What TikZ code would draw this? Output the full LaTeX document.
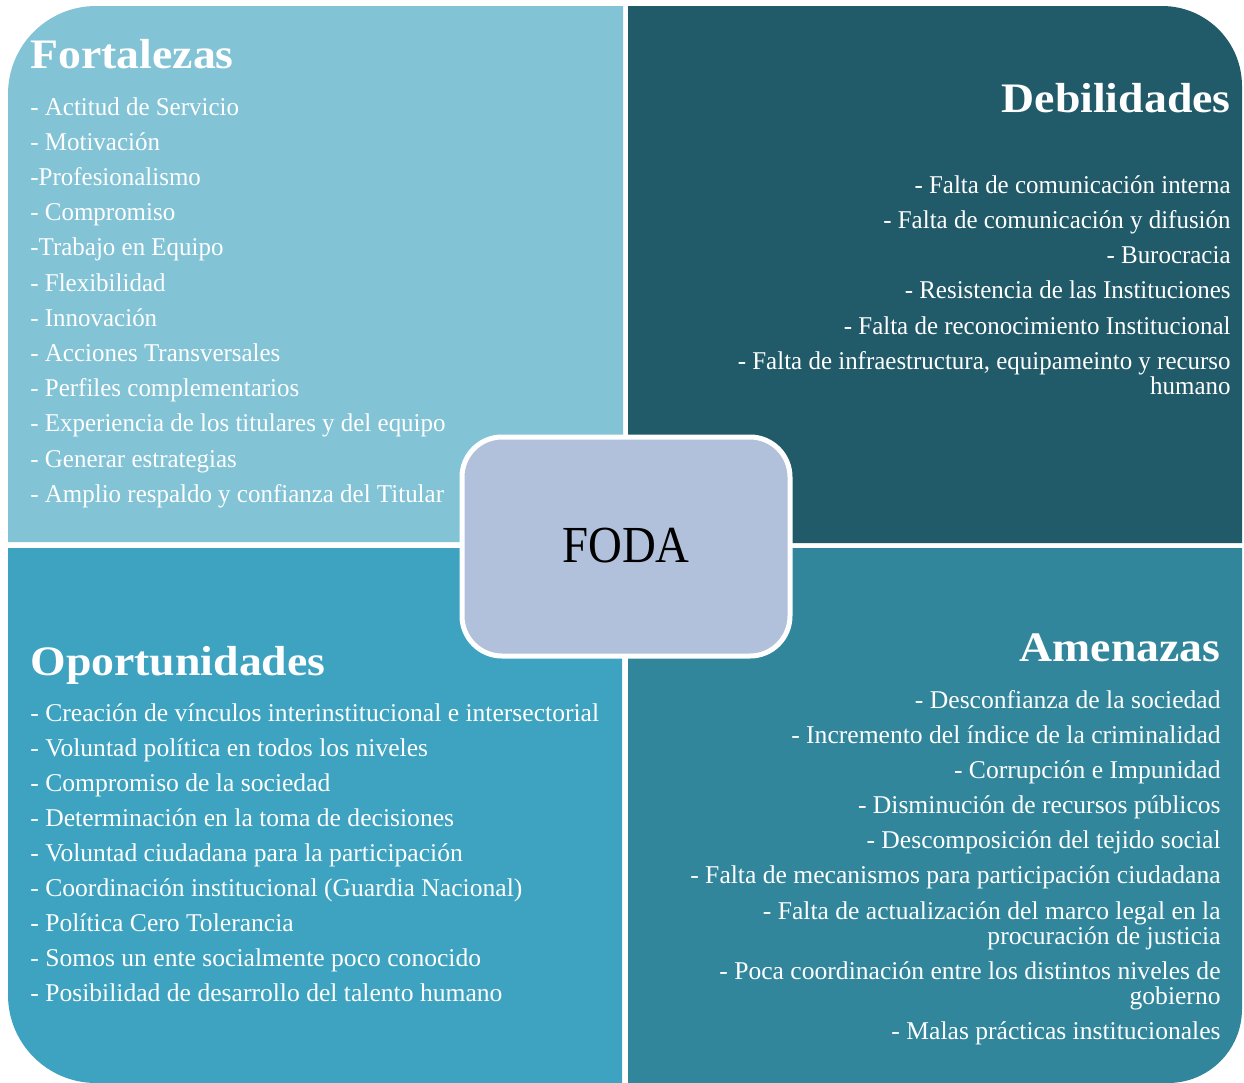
\documentclass[tikz,border=0pt]{standalone}
\usepackage{fontspec}
\setmainfont[FakeStretch=0.975]{Liberation Serif}
\newfontfamily\plainfont{Liberation Serif}
\newfontfamily\headfont[FakeStretch=1.09]{Liberation Serif}
\newfontfamily\fodafont[FakeStretch=0.9]{Liberation Serif}
\definecolor{fortcol}{HTML}{82C3D6}
\definecolor{debcol}{HTML}{215A69}
\definecolor{opocol}{HTML}{3DA3C0}
\definecolor{amecol}{HTML}{31869B}
\definecolor{fodacol}{HTML}{B1C1DC}
\tikzset{
	title/.style={text=white, inner sep=0pt, font=\fontsize{21}{25}\selectfont\headfont\bfseries},
	item/.style={text=white, inner sep=0pt, font=\fontsize{12.8}{12.5}\selectfont},
	plainitem/.style={item, font=\fontsize{12.8}{12.5}\selectfont\plainfont},
}
\begin{document}
\begin{tikzpicture}[x=0.5pt, y=-0.5pt]
					\useasboundingbox (0,0) rectangle (1244,1083);

					% The four quadrants, each with one rounded outer corner
						\fill [fortcol] (8,542) [rounded corners=44pt] -- (8,6) [sharp corners] -- (623,6) -- (623,542) -- cycle;
						\fill [debcol] (628,6) [rounded corners=40pt] -- (1242,6) [sharp corners] -- (1242,543) -- (628,543) -- cycle;
						\fill [opocol] (622,548) -- (8,548) [rounded corners=44pt] -- (8,1083) [sharp corners] -- (622,1083) -- cycle;
						\fill [amecol] (628,548) -- (1242,548) [rounded corners=37pt] -- (1242,1083) [sharp corners] -- (628,1083) -- cycle;

					% Fortalezas
						\node [title, anchor=base west] (fort) at (30,68) {Fortalezas};
						\foreach \t [count=\i] in {
							- Actitud de Servicio,
							- Motivación,
							-Profesionalismo,
							- Compromiso,
							-Trabajo en Equipo,
							- Flexibilidad,
							- Innovación,
							- Acciones Transversales,
							- Perfiles complementarios,
							- Experiencia de los titulares y del equipo,
							- Generar estrategias,
							- Amplio respaldo y confianza del Titular} {
								\node [item, anchor=base west] (fort\i) at (30, 115 + 35.2 * \i - 35.2) {\t};
								}

					% Debilidades
						\node [title, anchor=base east] (deb) at (1231,112) {Debilidades};
						\foreach \y/\t [count=\i] in {
							193/{- Falta de comunicación interna},
							228/{- Falta de comunicación y difusión},
							263/{- Burocracia},
							298/{- Resistencia de las Instituciones},
							334/{- Falta de reconocimiento Institucional},
							394/{- Falta de infraestructura, equipameinto y recurso\\humano}} {
								\node [item, anchor=base east, align=right] (deb\i) at (1231,\y) {\t};
								}

					% Oportunidades
						\node [title, anchor=base west] (opo) at (30,675) {Oportunidades};
						\foreach \t [count=\i] in {
							- Creación de vínculos interinstitucional e intersectorial,
							- Voluntad política en todos los niveles,
							- Compromiso de la sociedad,
							- Determinación en la toma de decisiones,
							- Voluntad ciudadana para la participación,
							- Coordinación institucional (Guardia Nacional),
							- Política Cero Tolerancia,
							- Somos un ente socialmente poco conocido,
							- Posibilidad de desarrollo del talento humano} {
								\node [plainitem, anchor=base west] (opo\i) at (30, 721 + 35.1 * \i - 35.1) {\t};
								}

					% Amenazas
						\node [title, anchor=base east] (ame) at (1221,661) {Amenazas};
						\foreach \y/\t [count=\i] in {
							708/{- Desconfianza de la sociedad},
							743/{- Incremento del índice de la criminalidad},
							778/{- Corrupción e Impunidad},
							813/{- Disminución de recursos públicos},
							848/{- Descomposición del tejido social},
							883/{- Falta de mecanismos para participación ciudadana},
							944/{- Falta de actualización del marco legal en la\\procuración de justicia},
							1004/{- Poca coordinación entre los distintos niveles de\\gobierno},
							1039/{- Malas prácticas institucionales}} {
								\node [plainitem, anchor=base east, align=right] (ame\i) at (1221,\y) {\t};
								}

					% The FODA box in the middle
						\draw [fill=fodacol, draw=white, line width=2.5pt, rounded corners=20pt] (462,437) rectangle (790,656);
						\node [font=\fontsize{26}{30}\selectfont\fodafont] (foda) at (626,546) {FODA};

					\end{tikzpicture}
\end{document}
